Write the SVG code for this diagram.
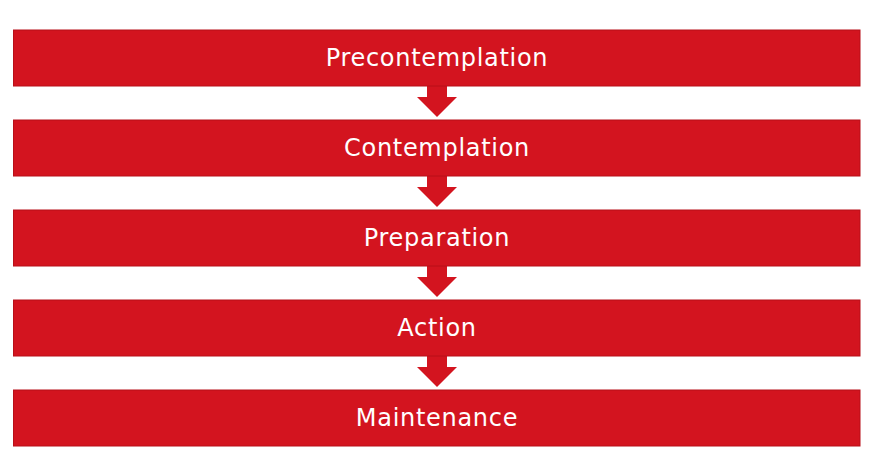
<svg xmlns="http://www.w3.org/2000/svg" width="877" height="470" viewBox="0 0 877 470">
<style>
.bar{fill:#d3141f;stroke:#b80f19;stroke-width:1}
.lbl{fill:#ffffff;font-family:"DejaVu Sans","Liberation Sans",sans-serif;font-size:24px;letter-spacing:0.7px;text-anchor:middle}
.arr{fill:#d3141f}
</style>
<rect width="877" height="470" fill="#ffffff"/>
<g id="connectors">
<path class="arr" d="M427 86 H447 V97 H457 L437 117 L417 97 H427 Z"/>
<path class="arr" d="M427 176 H447 V187 H457 L437 207 L417 187 H427 Z"/>
<path class="arr" d="M427 266 H447 V277 H457 L437 297 L417 277 H427 Z"/>
<path class="arr" d="M427 356 H447 V367 H457 L437 387 L417 367 H427 Z"/>
</g>
<g id="precontemplation"><rect class="bar" x="13.5" y="30" width="846.5" height="56"/><text class="lbl" x="437" y="66">Precontemplation</text></g>
<g id="contemplation"><rect class="bar" x="13.5" y="120" width="846.5" height="56"/><text class="lbl" x="437" y="156">Contemplation</text></g>
<g id="preparation"><rect class="bar" x="13.5" y="210" width="846.5" height="56"/><text class="lbl" x="437" y="246">Preparation</text></g>
<g id="action"><rect class="bar" x="13.5" y="300" width="846.5" height="56"/><text class="lbl" x="437" y="336">Action</text></g>
<g id="maintenance"><rect class="bar" x="13.5" y="390" width="846.5" height="56"/><text class="lbl" x="437" y="426">Maintenance</text></g>
</svg>
